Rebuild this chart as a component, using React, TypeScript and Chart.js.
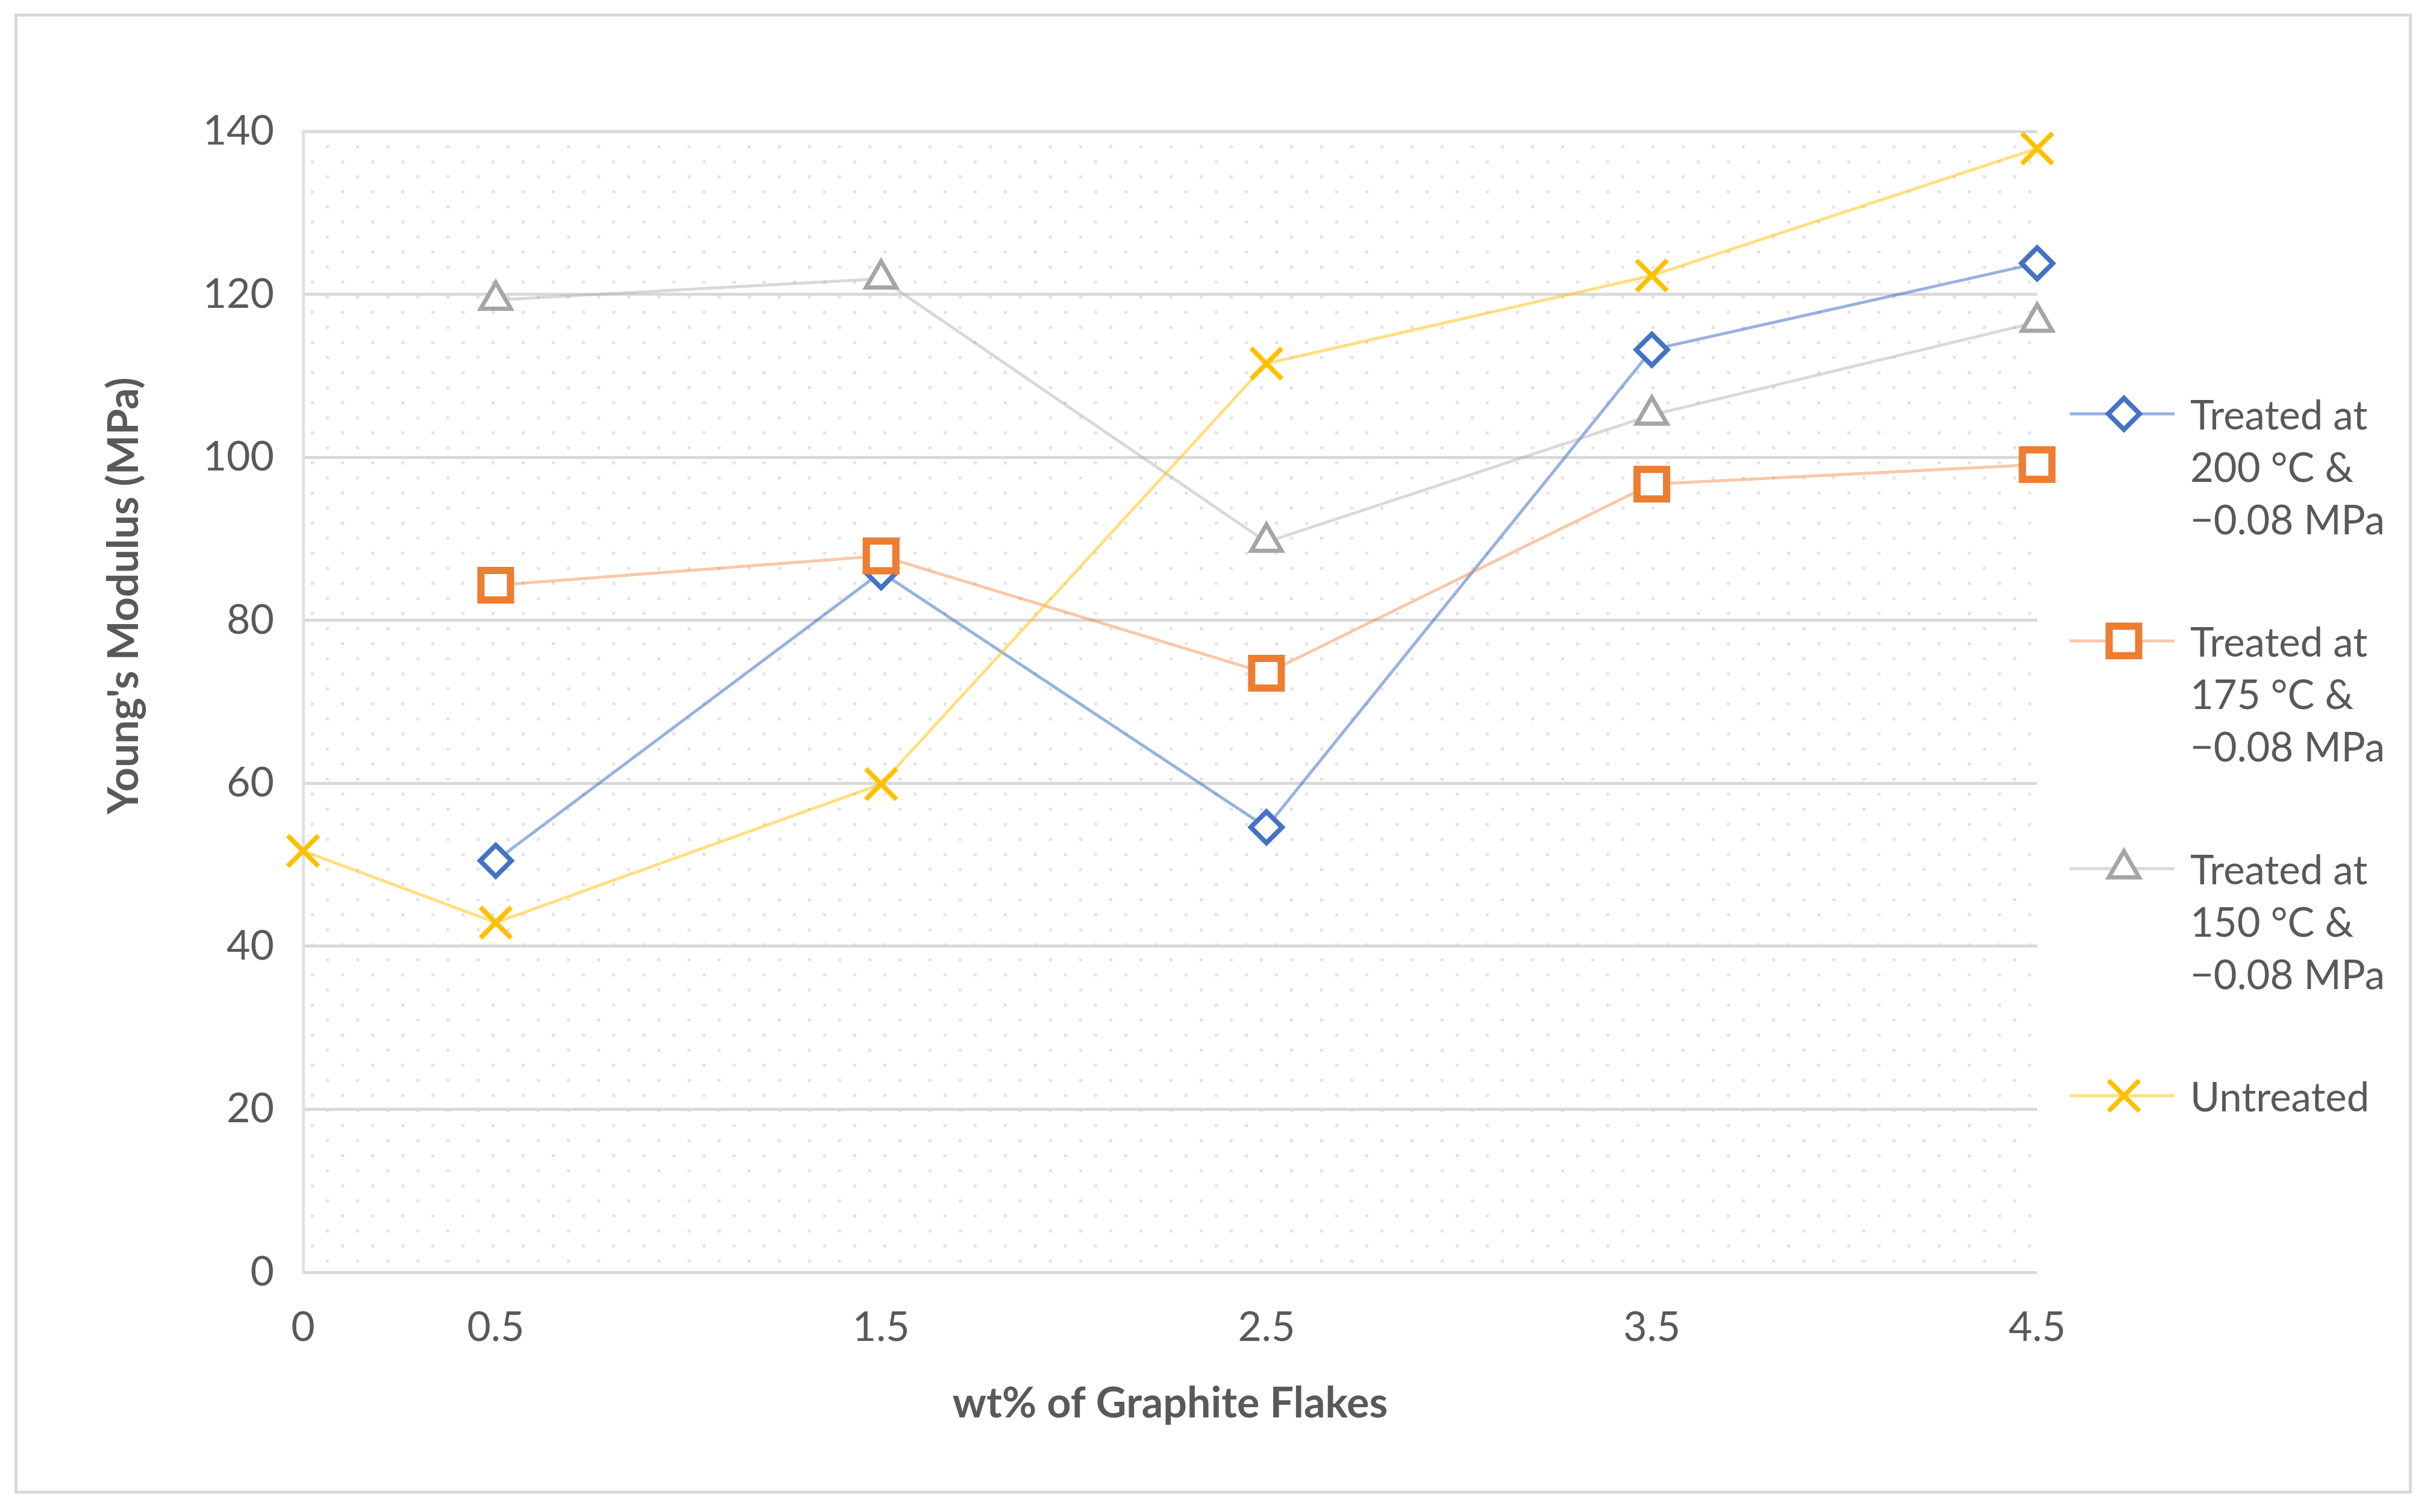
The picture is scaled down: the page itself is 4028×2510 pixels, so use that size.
import React, { useEffect, useRef } from 'react';
import { Chart, registerables } from 'chart.js';
import { drawPoint } from 'chart.js/helpers';

Chart.register(...registerables);

// ---- data ----
const xTickValues = [0, 0.5, 1.5, 2.5, 3.5, 4.5];
const treatedX = [0.5, 1.5, 2.5, 3.5, 4.5];
const untreatedX = [0, 0.5, 1.5, 2.5, 3.5, 4.5];
const treated200 = [50.5, 85.9, 54.6, 113.2, 123.8];
const treated175 = [84.3, 87.9, 73.5, 96.7, 99.1];
const treated150 = [119.3, 121.9, 89.6, 105.2, 116.6];
const untreated = [51.7, 42.9, 59.9, 111.5, 122.3, 137.9];
const seriesLabels = [
  ['Treated at', '200 °C &', '−0.08 MPa'],
  ['Treated at', '175 °C &', '−0.08 MPa'],
  ['Treated at', '150 °C &', '−0.08 MPa'],
  ['Untreated'],
];
const yMin = 0;
const yMax = 140;
const yStep = 20;
const xTitle = 'wt% of Graphite Flakes';
const yTitle = "Young's Modulus (MPa)";

// ---- styles ----
const markerColors = ['#4472C4', '#ED7D31', '#A5A5A5', '#FFC000'];
const lineColors = [
  'rgba(68,114,196,0.55)',
  'rgba(237,125,49,0.42)',
  'rgba(165,165,165,0.42)',
  'rgba(255,192,0,0.5)',
];
const pointStyles = ['rectRot', 'rect', 'triangle', 'crossRot'];
const pointRadii = [26, 34.7, 29, 36];
const pointBorders = [8, 12, 7, 8];
const FONT = 'Lato, "Open Sans", sans-serif';
const TEXT = '#595959';

const seriesData = [
  treatedX.map((x, i) => ({ x, y: treated200[i] })),
  treatedX.map((x, i) => ({ x, y: treated175[i] })),
  treatedX.map((x, i) => ({ x, y: treated150[i] })),
  untreatedX.map((x, i) => ({ x, y: untreated[i] })),
];

const decorPlugin = {
  id: 'decor',
  beforeDraw(chart: any) {
    const { ctx, chartArea: a } = chart;
    ctx.save();
    ctx.fillStyle = '#ffffff';
    ctx.fillRect(0, 0, chart.width, chart.height);
    // dotted plot background
    const tile = document.createElement('canvas');
    tile.width = 50;
    tile.height = 50;
    const t = tile.getContext('2d')!;
    t.fillStyle = '#e3e3e3';
    t.fillRect(16, 16, 5, 5);
    t.fillRect(41, 41, 5, 5);
    const pat = ctx.createPattern(tile, 'repeat');
    if (pat) {
      ctx.fillStyle = pat;
      ctx.fillRect(a.left, a.top, a.right - a.left, a.bottom - a.top);
    }
    // outer frame
    ctx.strokeStyle = '#d9d9d9';
    ctx.lineWidth = 5;
    ctx.strokeRect(26.5, 25, 3974, 2452);
    ctx.restore();
  },
  afterDraw(chart: any) {
    const { ctx } = chart;
    ctx.save();
    // y axis title
    ctx.translate(206, 989);
    ctx.rotate(-Math.PI / 2);
    ctx.font = `bold 70px ${FONT}`;
    ctx.fillStyle = TEXT;
    ctx.textAlign = 'center';
    ctx.textBaseline = 'middle';
    ctx.fillText(yTitle, 0, 0);
    ctx.restore();

    // legend
    const itemY = [687, 1064, 1442, 1819];
    ctx.save();
    seriesLabels.forEach((lines, i) => {
      const y = itemY[i];
      ctx.strokeStyle = lineColors[i];
      ctx.lineWidth = 5;
      ctx.beginPath();
      ctx.moveTo(3435, y);
      ctx.lineTo(3609, y);
      ctx.stroke();
      ctx.fillStyle = '#ffffff';
      ctx.strokeStyle = markerColors[i];
      ctx.lineWidth = pointBorders[i];
      drawPoint(ctx, { pointStyle: pointStyles[i], radius: pointRadii[i], borderWidth: pointBorders[i], rotation: 0 } as any, 3525, y);
      ctx.fillStyle = TEXT;
      ctx.font = `67px ${FONT}`;
      ctx.textAlign = 'left';
      ctx.textBaseline = 'middle';
      lines.forEach((s, j) => ctx.fillText(s, 3635, y + 4 + j * 87));
    });
    ctx.restore();
  },
};

export default function App() {
  const ref = useRef<HTMLCanvasElement>(null);
  useEffect(() => {
    if (!ref.current) return;
    const chart = new Chart(ref.current, {
      type: 'line',
      data: {
        datasets: seriesData.map((d, i) => ({
          label: seriesLabels[i].join(' '),
          data: d,
          borderColor: lineColors[i],
          borderWidth: 5,
          pointStyle: pointStyles[i] as any,
          pointRadius: pointRadii[i],
          pointHoverRadius: pointRadii[i],
          pointBorderWidth: pointBorders[i],
          pointBorderColor: markerColors[i],
          pointBackgroundColor: '#ffffff',
          tension: 0,
          clip: false as any,
          order: 3 - i,
        })),
      },
      options: {
        responsive: false,
        animation: false,
        devicePixelRatio: 1,
        layout: { padding: { left: 0, top: 218, right: 647, bottom: 98 } },
        plugins: { legend: { display: false }, tooltip: { enabled: false } },
        events: [],
        scales: {
          x: {
            type: 'linear',
            min: 0,
            max: 4.5,
            afterBuildTicks: (s: any) => {
              s.ticks = xTickValues.map((v) => ({ value: v }));
            },
            afterFit: (s: any) => {
              s.height = 300;
            },
            grid: { display: false, drawTicks: false },
            border: { display: false },
            ticks: {
              autoSkip: false,
              maxRotation: 0,
              padding: 51,
              color: TEXT,
              font: { family: FONT, size: 68 },
              callback: (v: any) => String(v),
            },
            title: {
              display: true,
              text: xTitle,
              color: TEXT,
              font: { family: FONT, size: 70, weight: 'bold' },
              padding: { top: 0, bottom: 40 },
            },
          },
          y: {
            min: yMin,
            max: yMax,
            afterFit: (s: any) => {
              s.width = 503;
            },
            grid: { color: '#d9d9d9', lineWidth: 5, drawTicks: false },
            border: { display: true, color: '#e0e0e0', width: 5 },
            ticks: {
              stepSize: yStep,
              padding: 48,
              color: TEXT,
              font: { family: FONT, size: 68 },
            },
          },
        },
      },
      plugins: [decorPlugin],
    });
    return () => chart.destroy();
  }, []);
  return (
    <div style={{ position: 'absolute', left: 0, top: 0, width: 4028, height: 2510 }}>
      <canvas ref={ref} width={4028} height={2510} style={{ width: 4028, height: 2510, display: 'block' }} />
    </div>
  );
}
